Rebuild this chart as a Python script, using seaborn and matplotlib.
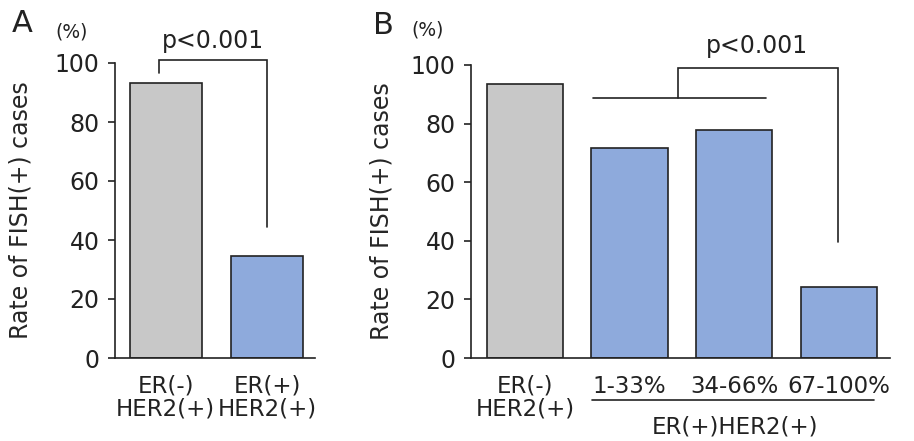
import matplotlib
matplotlib.use('Agg')
import matplotlib.pyplot as plt
import matplotlib.transforms as mtransforms
import pandas as pd
import seaborn as sns

# values
groups_a = ['ER(-)\nHER2(+)', 'ER(+)\nHER2(+)']
rates_a = [93.2, 34.6]
groups_b = ['ER(-)\nHER2(+)', '1-33%', '34-66%', '67-100%']
rates_b = [93.6, 71.7, 77.8, 24.2]
p_text = 'p<0.001'
ylabel = 'Rate of FISH(+) cases'

gray = '#c8c8c8'
blue = '#8eaadc'
ink = '#222222'
fs = 17

sns.set_theme(style='white')
plt.rcParams['font.family'] = ['DejaVu Sans']
plt.rcParams['text.color'] = ink
plt.rcParams['axes.edgecolor'] = ink
plt.rcParams['xtick.color'] = ink
plt.rcParams['ytick.color'] = ink

W, H = 914, 441
fig = plt.figure(figsize=(W / 100, H / 100), dpi=100)


def px_axes(left, right, top, bottom):
    return fig.add_axes([left / W, 1 - bottom / H, (right - left) / W, (bottom - top) / H])


def style_axes(ax, xlim):
    ax.set_xlim(*xlim)
    ax.set_ylim(0, 100)
    ax.set_yticks([0, 20, 40, 60, 80, 100])
    sns.despine(ax=ax)
    ax.spines['left'].set_bounds(0, 100)
    for s in ['left', 'bottom']:
        ax.spines[s].set_linewidth(1.2)
    ax.tick_params(axis='y', direction='out', length=5, width=1.2, pad=6, labelsize=fs, left=True)
    ax.tick_params(axis='x', length=0, pad=12, labelsize=16.5)
    for lab in ax.get_xticklabels():
        lab.set_linespacing(1.0)
    ax.set_xlabel('')
    ax.set_ylabel(ylabel, fontsize=fs)
    ax.set_facecolor('none')


def bracket(ax, pts):
    xs, ys = zip(*pts)
    ax.plot(xs, ys, color=ink, lw=1.2, clip_on=False, solid_joinstyle='miter')


# panel A
ax_a = px_axes(115, 315, 63, 358)
df_a = pd.DataFrame({'group': groups_a, 'rate': rates_a})
sns.barplot(data=df_a, x='group', y='rate', hue='group', palette=[gray, blue],
            saturation=1, width=0.71, edgecolor=ink, linewidth=1.2, legend=False, ax=ax_a)
style_axes(ax_a, (-0.5, 1.47))
ax_a.yaxis.set_label_coords(-0.41, 0.5)
bracket(ax_a, [(-0.07, 96.6), (-0.07, 101), (1.0, 101), (1.0, 44.5)])
ax_a.text(0.46, 107.5, p_text, ha='center', va='center', fontsize=fs, clip_on=False)

# panel B
ax_b = px_axes(471, 890, 65, 358)
df_b = pd.DataFrame({'group': groups_b, 'rate': rates_b})
sns.barplot(data=df_b, x='group', y='rate', hue='group', palette=[gray, blue, blue, blue],
            saturation=1, width=0.73, edgecolor=ink, linewidth=1.2, legend=False, ax=ax_b)
style_axes(ax_b, (-0.515, 3.49))
ax_b.yaxis.set_label_coords(-0.186, 0.5)
bracket(ax_b, [(0.65, 88.7), (2.30, 88.7)])
bracket(ax_b, [(1.46, 88.7), (1.46, 99), (2.99, 99), (2.99, 39.6)])
ax_b.text(2.22, 106.5, p_text, ha='center', va='center', fontsize=fs, clip_on=False)

trans = mtransforms.blended_transform_factory(ax_b.transData, ax_b.transAxes)
ax_b.plot([0.64, 3.34], [-0.143, -0.143], color=ink, lw=1.2, transform=trans, clip_on=False)
ax_b.text(2.01, -0.235, 'ER(+)HER2(+)', transform=trans, ha='center', va='center', fontsize=16.5)

# panel letters and unit marks
fig.text(22 / W, 1 - 24 / H, 'A', ha='center', va='center', fontsize=22)
fig.text(72 / W, 1 - 32 / H, '(%)', ha='center', va='center', fontsize=13.5)
fig.text(383 / W, 1 - 26 / H, 'B', ha='center', va='center', fontsize=22)
fig.text(428 / W, 1 - 30 / H, '(%)', ha='center', va='center', fontsize=13.5)

fig.savefig('out.png', dpi=100)
